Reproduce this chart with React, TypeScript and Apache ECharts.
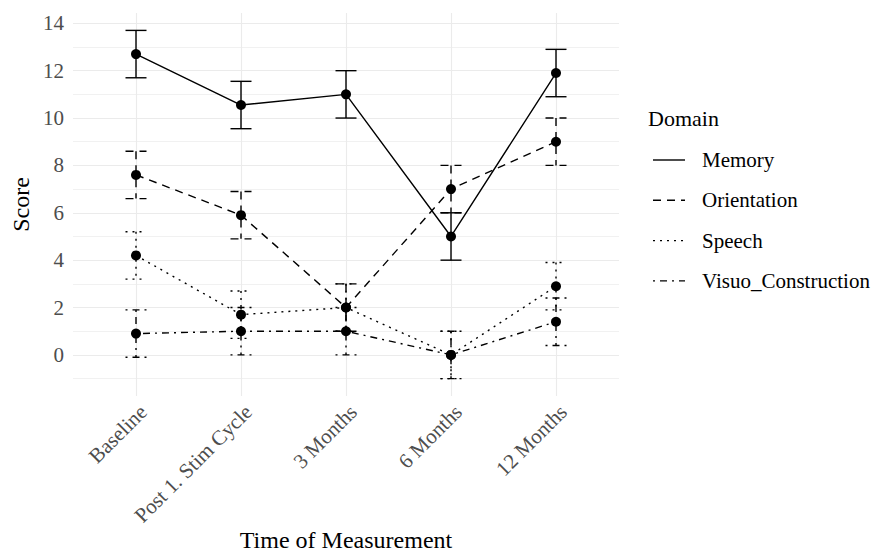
import React, { useEffect, useRef } from "react";
import * as echarts from "echarts";

const categories = ["Baseline", "Post 1. Stim Cycle", "3 Months", "6 Months", "12 Months"];
const domains = ["Memory", "Orientation", "Speech", "Visuo_Construction"];
const memory = [12.7, 10.55, 11.0, 5.0, 11.9];
const orientation = [7.6, 5.9, 2.0, 7.0, 9.0];
const speech = [4.2, 1.7, 2.0, 0.0, 2.9];
const visuo = [0.9, 1.0, 1.0, 0.0, 1.4];
const memoryErr = [1, 1, 1, 1, 1];
const orientationErr = [1, 1, 1, 1, 1];
const speechErr = [1, 1, 1, 1, 1];
const visuoErr = [1, 1, 1, 1, 1];
const yMajorTicks = [0, 2, 4, 6, 8, 10, 12, 14];
const yMinorTicks = [-1, 1, 3, 5, 7, 9, 11, 13];

const FONT = "Liberation Serif, Times New Roman, serif";
const LW = 1.4;
const dashes: (number[] | null)[] = [null, [8, 6], [2, 5], [2, 5, 7, 5]];

export default function App() {
  const ref = useRef<HTMLDivElement>(null);
  useEffect(() => {
    if (!ref.current) return;
    const chart = echarts.init(ref.current, null, { renderer: "svg" });
    const values = [memory, orientation, speech, visuo];
    const errs = [memoryErr, orientationErr, speechErr, visuoErr];
    const xIdx = categories.map((_, i) => i + 1);

    const series: any[] = [];
    domains.forEach((name, k) => {
      const dash = dashes[k];
      series.push({
        type: "custom",
        name: name + " error",
        xAxisIndex: 0,
        yAxisIndex: 0,
        data: xIdx.map((x, i) => [x, values[k][i], values[k][i] - errs[k][i], values[k][i] + errs[k][i]]),
        renderItem: (params: any, api: any) => {
          const x = api.value(0);
          const lo = api.value(2);
          const hi = api.value(3);
          const top = api.coord([x, hi]);
          const bot = api.coord([x, lo]);
          const half = api.size([0.1, 0])[0];
          const style: any = { stroke: "#000", lineWidth: LW, fill: null, lineDash: dash || undefined };
          return {
            type: "group",
            children: [
              { type: "line", shape: { x1: top[0], y1: top[1], x2: bot[0], y2: bot[1] }, style },
              { type: "line", shape: { x1: top[0] - half, y1: top[1], x2: top[0] + half, y2: top[1] }, style },
              { type: "line", shape: { x1: bot[0] - half, y1: bot[1], x2: bot[0] + half, y2: bot[1] }, style },
            ],
          };
        },
        z: 2,
        silent: true,
      });
      series.push({
        type: "line",
        name,
        xAxisIndex: 0,
        yAxisIndex: 0,
        data: xIdx.map((x, i) => [x, values[k][i]]),
        symbol: "circle",
        symbolSize: 10,
        itemStyle: { color: "#000" },
        lineStyle: { color: "#000", width: LW, type: dash ? dash : "solid" },
        z: 3,
        silent: true,
      });
    });

    const legendTop = 160;
    const legendGap = 40.3;
    const graphics: any[] = [];
    const titles: any[] = [
      {
        text: "Domain",
        left: 648,
        top: 118 - 12,
        padding: 0,
        textStyle: { fontSize: 22, fontFamily: FONT, color: "#000", fontWeight: "normal", lineHeight: 24 },
      },
    ];
    domains.forEach((name, k) => {
      const y = legendTop + k * legendGap;
      graphics.push({
        type: "line",
        shape: { x1: 653, y1: y, x2: 685, y2: y },
        style: { stroke: "#000", lineWidth: LW, lineDash: dashes[k] || undefined },
      });
      titles.push({
        text: name,
        left: 702,
        top: y - 11,
        padding: 0,
        textStyle: { fontSize: 21, fontFamily: FONT, color: "#000", fontWeight: "normal", lineHeight: 22 },
      });
    });

    const yMin = -1.735;
    const yMax = 14.435;

    chart.setOption({
      animation: false,
      backgroundColor: "#fff",
      textStyle: { fontFamily: FONT },
      title: titles,
      grid: { left: 73, right: 259, top: 13, bottom: 159, containLabel: false, outerBoundsMode: "none" },
      xAxis: [
        {
          type: "value",
          min: 0.4,
          max: 5.6,
          axisLine: { show: false },
          axisTick: { show: false, customValues: xIdx },
          splitLine: { show: true, lineStyle: { color: "#ebebeb", width: 1.1 } },
          axisLabel: {
            customValues: xIdx,
            formatter: (v: number) => categories[Math.round(v) - 1] ?? "",
            rotate: 45,
            align: "right",
            verticalAlign: "top",
            margin: 5,
            fontSize: 21,
            color: "#4d4d4d",
            fontFamily: FONT,
          },
          name: "Time of Measurement",
          nameLocation: "middle",
          nameGap: 132,
          nameMoveOverlap: false,
          nameTextStyle: { fontSize: 24, color: "#000", fontFamily: FONT },
        },
      ],
      yAxis: [
        {
          type: "value",
          min: yMin,
          max: yMax,
          axisLine: { show: false },
          axisTick: { show: false, customValues: yMajorTicks },
          splitLine: { show: true, lineStyle: { color: "#ebebeb", width: 1.1 } },
          axisLabel: {
            customValues: yMajorTicks,
            margin: 9,
            fontSize: 21,
            color: "#4d4d4d",
            fontFamily: FONT,
          },
          name: "Score",
          nameLocation: "middle",
          nameGap: 40,
          nameRotate: 90,
          nameMoveOverlap: false,
          nameTextStyle: { fontSize: 24, color: "#000", fontFamily: FONT },
        },
        {
          type: "value",
          min: yMin,
          max: yMax,
          position: "left",
          axisLine: { show: false },
          axisTick: { show: false, customValues: yMinorTicks },
          axisLabel: { show: false, customValues: yMinorTicks },
          splitLine: { show: true, lineStyle: { color: "#ededed", width: 0.8 } },
        },
      ],
      series,
      graphic: graphics,
    });
    return () => chart.dispose();
  }, []);
  return (
    <div
      ref={ref}
      style={{ position: "absolute", left: 0, top: 0, width: 878, height: 555, background: "#fff" }}
    />
  );
}
